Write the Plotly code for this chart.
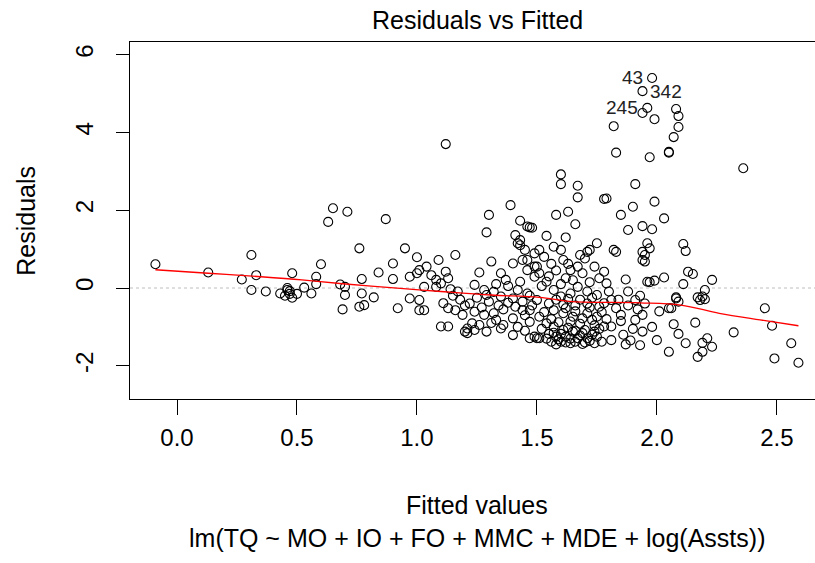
import plotly.graph_objects as go

# ---- data (fitted value, residual) ----
fitted_a = [-0.09, 0.13, 0.27, 0.31, 0.33, 0.31, 0.37, 0.43, 0.46, 0.47, 0.45, 0.48, 0.46, 0.47, 0.48, 0.50, 0.53, 0.56, 0.58, 0.60, 0.58, 0.63, 0.65, 0.71, 0.68, 0.70, 0.69]
resid_a  = [0.61, 0.40, 0.22, 0.85, 0.33, -0.05, -0.09, -0.14, -0.05, -0.15, -0.20, -0.25, 0.00, -0.08, 0.38, -0.15, 0.01, -0.14, 0.29, 0.61, 0.10, 1.70, 2.05, 1.96, 0.09, -0.18, -0.55]

fitted_b = [0.70, 0.76, 0.95, 1.00, 0.87, 0.90, 0.84, 0.90, 0.77, 0.77, 0.82, 0.78, 0.76, 0.92, 0.97, 1.01, 1.01, 1.03, 1.01, 0.97, 1.00, 1.04, 1.09, 1.16, 1.06, 1.08, 1.10, 1.12, 1.08, 1.03, 1.13, 1.14, 1.17, 1.24, 1.26, 1.31, 1.40, 1.35, 1.12]
resid_b  = [0.03, 1.02, 1.02, 0.79, 1.77, 0.63, 0.40, 0.23, 0.23, -0.14, -0.24, -0.44, -0.48, -0.52, -0.27, -0.31, -0.57, -0.57, 0.46, 0.29, 0.38, 0.55, 0.72, 0.85, 0.33, 0.21, 0.12, 0.42, 0.03, 0.03, 0.25, -0.03, -0.09, 0.08, 0.40, 0.68, 0.63, 0.38, 3.70]

fitted_c = [1.11, 1.13, 1.16, 1.10, 1.13, 1.21, 1.21, 1.20, 1.24, 1.29, 1.35, 1.40, 1.23, 1.19, 1.24, 1.28, 1.32, 1.33, 1.40, 1.44, 1.47, 1.49, 1.50, 1.29, 1.35, 1.40, 1.46, 1.37, 1.43, 1.49, 1.46, 1.50, 1.44, 1.49, 1.45, 1.42, 1.39, 1.30, 1.29, 1.43, 1.48, 1.46, 1.41, 1.43, 1.43]
resid_c  = [-0.39, -0.52, -0.57, -0.99, -0.99, -1.04, -1.16, -1.12, -1.08, -1.12, -1.04, -1.21, -0.91, -0.69, -0.61, -0.69, -0.65, -0.82, -0.78, -0.57, -0.87, -1.25, -1.29, -0.18, -0.22, -0.27, -0.14, 0.21, 0.16, 0.29, 0.46, 0.55, 0.72, 0.89, 0.98, 1.15, 2.13, 1.88, 1.43, 1.73, 1.55, 1.58, 1.36, 1.23, 1.10]

fitted_d = [1.83, 1.97, 2.05, 1.60, 1.60, 1.67, 1.67, 1.78, 1.79, 1.91, 1.99, 1.90, 1.85, 2.03, 1.58, 1.63, 1.66, 1.88, 1.94, 1.98, 1.54, 1.62, 1.75, 1.96, 1.97, 1.82, 1.72, 1.47, 1.57, 1.60, 1.51,
            1.98, 1.94, 1.96, 1.94, 1.99, 2.08, 2.09, 2.09, 2.07, 2.05, 2.36, 1.82]
resid_d  = [3.48, 3.36, 3.48, 2.92, 2.67, 2.63, 2.33, 2.29, 2.30, 2.67, 2.22, 2.09, 1.88, 1.79, 1.88, 1.96, 1.64, 1.49, 1.59, 1.51, 1.34, 1.30, 1.15, 1.15, 1.02, 0.98, 0.98, 1.56, 1.06, 0.98, 0.98,
            5.40, 5.06, 4.63, 4.50, 4.34, 4.60, 4.42, 4.14, 3.88, 3.50, 3.08, 4.16]

fitted_e = [1.94, 1.94, 2.11, 2.12, 1.96, 1.99, 2.03, 2.11, 2.13, 2.15, 2.23, 2.20, 2.19, 2.17, 2.18, 2.20, 2.08, 2.09, 2.06, 1.94, 1.94, 1.93, 2.00, 2.07, 2.09, 2.12, 2.05, 2.16, 2.32, 2.21, 2.19, 2.23, 2.19, 2.17, 2.45, 2.48, 2.56, 2.49, 2.59]
resid_e  = [0.93, 0.72, 1.13, 0.95, 0.16, 0.19, 0.27, 0.10, 0.42, 0.36, 0.21, -0.05, -0.22, -0.24, -0.31, -0.29, -0.24, -0.35, -0.52, -0.69, -1.12, -1.47, -1.34, -0.93, -1.18, -1.42, -1.64, -0.89, -1.14, -1.29, -1.41, -1.51, -1.64, -1.77, -0.52, -0.97, -1.42, -1.81, -1.92]

fitted_f = [1.83, 1.95, 1.95, 1.70, 1.71, 1.87, 1.97, 1.88, 1.91, 2.08, 2.05, 1.91, 1.85, 1.81, 1.81, 1.77, 1.74, 1.69, 1.64, 1.60, 1.56, 1.51, 1.47, 1.78, 1.76, 1.79, 1.80, 1.81, 1.83, 1.78, 1.75, 1.71, 1.67, 1.64, 1.60, 1.57, 1.54, 1.51, 1.49, 1.46, 1.61, 1.64, 1.62, 1.67,
            1.50, 1.47, 1.51, 1.57, 1.61, 1.65, 1.71, 1.75, 1.57, 1.61, 1.65, 1.69, 1.74, 1.78, 1.54, 1.58, 1.62, 1.67, 1.71, 1.75]
resid_f  = [0.93, 0.85, 0.68, 0.76, 0.93, 0.22, 0.15, -0.09, -0.31, -0.27, -0.52, -0.82, -0.69, -0.99, -1.34, -1.38, -1.42, -1.44, -1.42, -1.38, -1.38, -1.29, -1.29, 0.42, 0.25, 0.12, -0.09, -0.31, -0.52, -0.39, -0.18, -0.09, 0.03, -0.14, -0.22, -0.05, 0.16, 0.38, 0.55, 0.72, 0.72, 0.46, 0.25, 0.55,
            -0.31, -0.57, -0.74, -0.57, -0.65, -0.74, -0.65, -0.74, -0.99, -1.08, -1.12, -1.16, -1.12, -0.99, -0.91, -1.25, -1.25, -1.29, -1.29, -1.25]

fitted_g = [1.52, 1.55, 1.59, 1.63, 1.66, 1.68, 1.70, 1.72, 1.73, 1.76, 1.53, 1.56, 1.59, 1.62, 1.64, 1.66, 1.69, 1.72, 1.74, 1.77, 1.79, 1.55, 1.58, 1.61, 1.63, 1.66, 1.68, 1.71, 1.73, 1.76, 1.60, 1.64, 1.68, 1.70, 1.58, 1.62, 1.66, 1.54, 1.57, 1.73]
resid_g  = [-1.05, -1.18, -1.32, -1.02, -1.38, -0.92, -1.08, -1.36, -0.82, -1.05, -0.62, -0.80, -0.88, -0.52, -0.86, -0.60, -0.78, -0.50, -0.96, -0.62, -0.80, -0.40, -0.30, -0.42, -0.28, -0.45, -0.30, -0.40, -0.25, -0.48, -1.18, -1.30, -1.22, -1.40, -1.45, -1.40, -1.10, -1.30, -1.15, -1.20]

fitted_h = [1.22, 1.25, 1.27, 1.30, 1.32, 1.34, 1.36, 1.38, 1.41, 1.42, 1.44, 1.45, 1.47, 1.48, 1.38, 1.33, 1.28, 1.31, 1.36, 1.42, 1.45, 1.26, 1.18, 1.15, 1.20,
            1.52, 1.55, 1.58, 1.60, 1.63, 1.65, 1.69, 1.72, 1.74, 1.68, 1.53, 1.56,
            1.84, 1.86, 1.88, 1.90, 1.92, 1.89, 1.85, 1.95, 1.98, 2.01, 1.87, 1.93]
resid_h  = [-0.40, -0.25, -0.50, -0.35, -0.10, -0.45, -0.55, -0.38, -0.48, -0.05, -0.35, -0.70, -0.20, -0.45, 0.05, 0.10, -0.05, -0.90, -0.95, -1.00, -1.10, -0.95, -0.30, -0.20, -0.45,
            0.05, 0.30, 0.45, 0.10, 0.62, 0.20, 0.38, 0.15, 0.55, 0.85, 0.80, 0.62,
            -0.30, -1.20, -0.45, -1.05, -0.55, -1.35, -0.85, -0.40, -1.00, -0.60, -1.45, -0.20]

fitted = fitted_a + fitted_b + fitted_c + fitted_d + fitted_e + fitted_f + fitted_g + fitted_h
resid = resid_a + resid_b + resid_c + resid_d + resid_e + resid_f + resid_g + resid_h

# lowess smoother (red line)
smooth_x = [-0.09, 0.13, 0.35, 0.52, 0.69, 0.93, 1.10, 1.31, 1.51, 1.65, 1.93, 2.10, 2.26, 2.43, 2.59]
smooth_y = [0.47, 0.38, 0.29, 0.21, 0.11, -0.01, -0.09, -0.18, -0.24, -0.35, -0.38, -0.44, -0.65, -0.82, -0.97]

# point labels
label_text = ["43", "342", "245"]
label_x = [1.90, 2.04, 1.855]
label_y = [5.40, 5.06, 4.63]

x_ticks = [0.0, 0.5, 1.0, 1.5, 2.0, 2.5]
x_tick_text = ["0.0", "0.5", "1.0", "1.5", "2.0", "2.5"]
y_ticks = [-2, 0, 2, 4, 6]
y_tick_text = ["-2", "0", "2", "4", "6"]

FONT = "Liberation Sans, Arial, sans-serif"
XR = [-0.196, 2.659]
YR = [-2.853, 6.324]
TXT = 25

fig = go.Figure()
fig.add_trace(go.Scatter(
    x=fitted, y=resid, mode="markers",
    marker=dict(symbol="circle-open", size=9, color="black", line=dict(width=1.1, color="black")),
    showlegend=False, hoverinfo="skip"))
fig.add_trace(go.Scatter(
    x=smooth_x, y=smooth_y, mode="lines", line=dict(color="red", width=1.3, shape="spline"),
    showlegend=False, hoverinfo="skip"))

fig.add_shape(type="line", xref="paper", yref="y", x0=0, x1=1, y0=0, y1=0,
              line=dict(color="#BEBEBE", width=1, dash="dot"), layer="below")

for t, xx, yy in zip(label_text, label_x, label_y):
    fig.add_annotation(x=xx, y=yy, text=t, showarrow=False, xref="x", yref="y",
                       font=dict(family=FONT, size=19, color="#222222"))

fig.add_annotation(text="Residuals vs Fitted", xref="paper", yref="paper", x=0.507, y=1.0616,
                   showarrow=False, font=dict(family=FONT, size=TXT, color="black"),
                   xanchor="center", yanchor="middle")
fig.add_annotation(text="Fitted values", xref="paper", yref="paper", x=0.507, y=-0.297,
                   showarrow=False, font=dict(family=FONT, size=TXT, color="black"),
                   xanchor="center", yanchor="middle")
fig.add_annotation(text="lm(TQ ~ MO + IO + FO + MMC + MDE + log(Assts))", xref="paper", yref="paper",
                   x=0.507, y=-0.389, showarrow=False, font=dict(family=FONT, size=TXT, color="black"),
                   xanchor="center", yanchor="middle")
fig.add_annotation(text="Residuals", xref="paper", yref="paper", x=-0.153, y=0.5, textangle=-90,
                   showarrow=False, font=dict(family=FONT, size=TXT, color="black"),
                   xanchor="center", yanchor="middle")

fig.update_layout(
    width=815, height=563,
    margin=dict(l=130, r=0, t=42, b=164, pad=0),
    paper_bgcolor="white", plot_bgcolor="white",
    font=dict(family=FONT, size=24, color="black"),
    hovermode=False,
    xaxis=dict(range=XR, tickvals=x_ticks, ticktext=x_tick_text, showgrid=False, zeroline=False,
               showline=True, mirror=True, linecolor="black", linewidth=1.3,
               ticks="outside", ticklen=15, tickwidth=1.3, tickcolor="black",
               ticklabelstandoff=2),
    yaxis=dict(range=YR, tickvals=y_ticks, ticktext=y_tick_text, showgrid=False, zeroline=False,
               showline=True, mirror=False, linecolor="black", linewidth=1.3,
               ticks="outside", ticklen=13, tickwidth=1.3, tickcolor="black",
               tickangle=-90, ticklabelstandoff=13),
)

# remove the default page margin so the figure sits at the window's top-left corner
fig.write_html("out.html", config={"displayModeBar": False},
               post_script="document.body.style.margin='0px';document.body.style.overflow='hidden';")
